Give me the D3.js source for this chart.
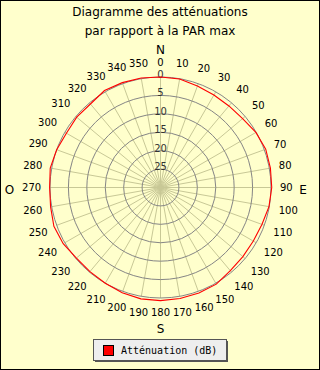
<!DOCTYPE html>
<html><head><meta charset="utf-8">
<script src="https://cdn.jsdelivr.net/npm/d3@7"></script>
<style>html,body{margin:0;padding:0;background:#fff;}svg{display:block;}</style>
</head><body>
<script>
const angles = [0,10,20,30,40,50,60,70,80,90,100,110,120,130,140,150,160,170,180,190,200,210,220,230,240,250,260,270,280,290,300,310,320,330,340,350];
const attenuation = [0,0.1,0.7,1.0,1.1,0.9,0.1,-0.4,-0.3,-0.2,0.1,0.7,0.9,0.8,0.5,-0.3,-0.5,-0.6,-0.7,-0.7,-0.4,0.0,0.2,0.2,-0.5,-0.8,-0.3,-0.1,-0.4,0.0,0.5,0.3,0.4,-0.4,-0.3,-0.2];
const ringTicks = [0,5,10,15,20,25];
const cardinals = [{t:"N",a:0},{t:"E",a:90},{t:"S",a:180},{t:"O",a:270}];
const titleLines = ["Diagramme des atténuations","par rapport à la PAR max"];
const legendLabel = "Atténuation (dB)";

const W=320,H=370, cx=160.5, cy=187.5, R=110.5;
const svg=d3.select("body").append("svg").attr("width",W).attr("height",H);
svg.append("rect").attr("x",0.5).attr("y",0.5).attr("width",W-1).attr("height",H-1).attr("fill","#ffffcc").attr("stroke","#000");

const r=d3.scaleLinear().domain([0,30]).range([R,0]);
const a=d3.scaleLinear().domain([0,360]).range([0,2*Math.PI]);
const g=svg.append("g").attr("transform",`translate(${cx},${cy})`);

// spokes
g.selectAll("line.spoke").data(angles).join("line")
 .attr("x1",0).attr("y1",0)
 .attr("x2",d=>R*Math.sin(a(d))).attr("y2",d=>-R*Math.cos(a(d)))
 .attr("stroke","#c8c896").attr("stroke-width",1);
// rings
g.selectAll("circle.ring").data(ringTicks).join("circle")
 .attr("r",d=>r(d)).attr("fill","none").attr("stroke","#858585").attr("stroke-width",1);
// ring labels
g.selectAll("text.rl").data(ringTicks).join("text")
 .attr("x",0).attr("y",d=>-r(d)+1).attr("text-anchor","middle")
 .attr("font-family","DejaVu Sans").attr("font-size",10).attr("fill","#333").text(d=>d);

// angle labels
g.selectAll("text.al").data(angles).join("text")
 .each(function(d){
   const t=d3.select(this);
   const s=String(d), w=s.length*6.3, h=10.6;
   const th=a(d), sn=Math.sin(th), cs=Math.cos(th);
   const off=R+9+ (w/2)*Math.abs(sn)+(h/2)*Math.abs(cs);
   t.attr("x",off*sn).attr("y",-off*cs).attr("dy","0.36em");
 })
 .attr("text-anchor","middle").attr("font-family","DejaVu Sans").attr("font-size",10).attr("fill","#000").text(d=>d);

// cardinals
const cardPos={N:[0,-133.5],S:[0,145.5],E:[142.5,6.5],O:[-151,6.5]};
g.selectAll("text.card").data(cardinals).join("text")
 .attr("x",d=>cardPos[d.t][0]).attr("y",d=>cardPos[d.t][1])
 .attr("text-anchor","middle").attr("font-family","DejaVu Sans").attr("font-size",12).attr("fill","#000").text(d=>d.t);

// data
const line=d3.lineRadial().angle((d,i)=>a(angles[i])).radius(d=>r(d)).curve(d3.curveLinearClosed);
g.append("path").attr("d",line(attenuation)).attr("fill","none").attr("stroke","#ff0000").attr("stroke-width",1.1);

// title
svg.selectAll("text.title").data(titleLines).join("text")
 .attr("x",160).attr("y",(d,i)=>16+i*19).attr("text-anchor","middle")
 .attr("font-family","DejaVu Sans").attr("font-size",12).attr("fill","#000").text(d=>d);

// legend
const lg=svg.append("g");
lg.append("rect").attr("x",95).attr("y",341).attr("width",133).attr("height",21).attr("fill","#555");
lg.append("rect").attr("x",93.5).attr("y",339.5).attr("width",133).attr("height",21).attr("fill","#eeeeee").attr("stroke","#555");
lg.append("rect").attr("x",103.5).attr("y",345.5).attr("width",10).attr("height",10).attr("fill","#ff0000").attr("stroke","#000");
lg.append("text").attr("x",121).attr("y",354).attr("font-family","DejaVu Sans Mono").attr("font-size",10).attr("fill","#000").text(legendLabel);
</script>
</body></html>
